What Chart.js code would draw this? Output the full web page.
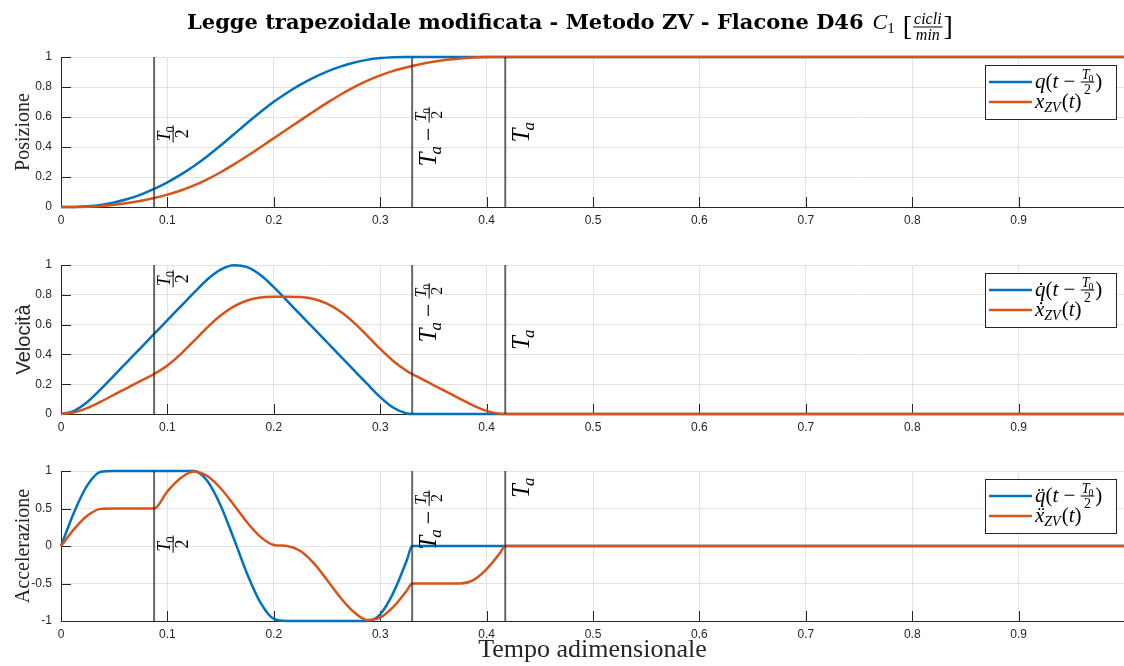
<!DOCTYPE html>
<html>
<head>
<meta charset="utf-8">
<script src="https://cdn.jsdelivr.net/npm/chart.js@4.4.0/dist/chart.umd.min.js"></script>
<style>
  html, body { margin: 0; padding: 0; background: #fff; }
  #fig { position: relative; width: 1124px; height: 666px; }
  #fig canvas { position: absolute; left: 0; }
</style>
</head>
<body>
<div id="fig">
  <canvas id="posChart" width="1124" height="240" style="top:0"></canvas>
  <canvas id="velChart" width="1124" height="210" style="top:240px"></canvas>
  <canvas id="accChart" width="1124" height="216" style="top:450px"></canvas>
</div>
<script>
// tempo adimensionale (campioni)
var tempo = [0, 0.0125, 0.025, 0.0375, 0.05, 0.0625, 0.075, 0.0875, 0.1, 0.1125, 0.125, 0.1375, 0.15, 0.1625,
  0.175, 0.1875, 0.2, 0.2125, 0.225, 0.2375, 0.25, 0.2625, 0.275, 0.2875, 0.3, 0.3125, 0.325, 0.33,
  0.3375, 0.35, 0.3625, 0.375, 0.3875, 0.4, 0.4125, 0.4175, 0.999];

var posQ = [0, 0.0006, 0.0042, 0.0136, 0.0297, 0.0529, 0.0830, 0.1202, 0.1644, 0.2156, 0.2738, 0.3389, 0.4100, 0.4849,
  0.5603, 0.6332, 0.7010, 0.7620, 0.8160, 0.8630, 0.9030, 0.9359, 0.9619, 0.9808, 0.9928, 0.9985, 1.0000, 1,
  1, 1, 1, 1, 1, 1, 1, 1, 1];
var posX = [0, 0.0003, 0.0021, 0.0068, 0.0149, 0.0265, 0.0415, 0.0601, 0.0825, 0.1099, 0.1437, 0.1843, 0.2315, 0.2840,
  0.3403, 0.3988, 0.4583, 0.5179, 0.5775, 0.6365, 0.6940, 0.7481, 0.7976, 0.8409, 0.8774, 0.9073, 0.9315, 0.9399,
  0.9515, 0.9680, 0.9810, 0.9904, 0.9964, 0.9993, 1.0000, 1, 1];

var velQ = [0, 0.0216, 0.0817, 0.1668, 0.2593, 0.3519, 0.4445, 0.5370, 0.6296, 0.7222, 0.8148, 0.9028, 0.9691, 0.9991,
  0.9861, 0.9330, 0.8513, 0.7592, 0.6666, 0.5741, 0.4815, 0.3889, 0.2963, 0.2038, 0.1137, 0.0416, 0.0035, 0,
  0, 0, 0, 0, 0, 0, 0, 0, 0];
var velX = [0, 0.0108, 0.0409, 0.0834, 0.1297, 0.1760, 0.2223, 0.2685, 0.3256, 0.4020, 0.4908, 0.5811, 0.6605, 0.7218,
  0.7616, 0.7813, 0.7868, 0.7870, 0.7847, 0.7716, 0.7403, 0.6875, 0.6147, 0.5276, 0.4365, 0.3541, 0.2888, 0.2685,
  0.2408, 0.1945, 0.1482, 0.1019, 0.0569, 0.0208, 0.0018, 0, 0];

var accQ = [0, 0.458, 0.815, 0.990, 1, 1, 1, 1, 1, 1, 0.999, 0.866, 0.541, 0.095,
  -0.372, -0.755, -0.972, -1, -1, -1, -1, -1, -1, -1, -0.910, -0.618, -0.189, 0,
  0, 0, 0, 0, 0, 0, 0, 0, 0];
var accX = [0, 0.229, 0.407, 0.495, 0.5, 0.5, 0.5, 0.5, 0.729, 0.907, 0.994, 0.933, 0.770, 0.547,
  0.314, 0.122, 0.014, 0.000, -0.067, -0.229, -0.452, -0.686, -0.877, -0.986, -0.955, -0.809, -0.594, -0.5,
  -0.5, -0.5, -0.5, -0.5, -0.455, -0.309, -0.095, 0, 0];

var marcatori = [0.0875, 0.33, 0.4175];   // T0/2, Ta - T0/2, Ta
var tickTempo = [0, 0.1, 0.2, 0.3, 0.4, 0.5, 0.6, 0.7, 0.8, 0.9];
var tickUnit = [0, 0.2, 0.4, 0.6, 0.8, 1];
var tickAcc = [-1, -0.5, 0, 0.5, 1];

var BLUE = '#0072BD';
var ORANGE = '#D95319';
var SERIF = '"Liberation Serif", "DejaVu Serif", serif';
var SANS = '"Liberation Sans", Arial, sans-serif';

// --- piccolo motore per testo "LaTeX" ---
// parte: [testo, dimensione, corsivo, dy, dx]
function setFont(ctx, p) {
  ctx.font = (p[2] ? 'italic ' : '') + p[1] + 'px ' + SERIF;
}
function runWidth(ctx, parts) {
  var w = 0;
  parts.forEach(function (p) { setFont(ctx, p); w += ctx.measureText(p[0]).width + (p[4] || 0); });
  return w;
}
function drawRun(ctx, x, y, parts) {
  parts.forEach(function (p) {
    setFont(ctx, p);
    x += p[4] || 0;
    ctx.fillText(p[0], x, y + (p[3] || 0));
    x += ctx.measureText(p[0]).width;
  });
  return x;
}
function drawFrac(ctx, x, axis, num, den, size) {
  var wn = runWidth(ctx, num), wd = runWidth(ctx, den);
  var w = Math.max(wn, wd) + 2;
  drawRun(ctx, x + (w - wn) / 2, axis - 3, num);
  drawRun(ctx, x + (w - wd) / 2, axis + 2 + size * 0.7, den);
  ctx.fillRect(x, axis - 0.5, w, 1);
  return x + w;
}
function tHalf(ctx, x, axis, f) {
  return drawFrac(ctx, x, axis, [['T', f, 1], ['0', f * 0.7, 0, f * 0.22, -1]], [['2', f, 0]], f);
}

var etichette = [
  function (ctx) { tHalf(ctx, 0, 0, 18); },
  function (ctx) {
    var x = drawRun(ctx, 0, 0, [['T', 25, 1], ['a', 17, 1, 5, -2]]);
    x = drawRun(ctx, x + 5, 0, [['\u2212', 24, 0]]);
    tHalf(ctx, x + 5, -7, 16);
  },
  function (ctx) { drawRun(ctx, 0, 0, [['T', 25, 1], ['a', 17, 1, 5, -2]]); }
];
var scostamento = [19, 24, 24];

var ticksInterni = {
  id: 'ticksInterni',
  beforeDatasetsDraw: function (chart) {
    var ctx = chart.ctx, a = chart.chartArea, sx = chart.scales.x, sy = chart.scales.y;
    ctx.save();
    ctx.strokeStyle = '#262626';
    ctx.lineWidth = 1;
    ctx.beginPath();
    sx.ticks.forEach(function (t) {
      var px = Math.round(sx.getPixelForValue(t.value)) + 0.5;
      ctx.moveTo(px, a.bottom); ctx.lineTo(px, a.bottom - 10);
    });
    sy.ticks.forEach(function (t) {
      var py = Math.round(sy.getPixelForValue(t.value)) + 0.5;
      ctx.moveTo(a.left, py); ctx.lineTo(a.left + 10, py);
    });
    ctx.stroke();
    ctx.restore();
  }
};

var lineeLabel = {
  id: 'lineeLabel',
  afterDatasetsDraw: function (chart, args, opts) {
    var ctx = chart.ctx, sx = chart.scales.x, sy = chart.scales.y;
    marcatori.forEach(function (t, i) {
      ctx.save();
      ctx.translate(sx.getPixelForValue(t) + scostamento[i], sy.getPixelForValue(opts.y[i]));
      ctx.rotate(-Math.PI / 2);
      ctx.fillStyle = '#000';
      ctx.textAlign = 'left';
      ctx.textBaseline = 'alphabetic';
      etichette[i](ctx);
      ctx.restore();
    });
  }
};

var legendaMat = {
  id: 'legendaMat',
  afterDraw: function (chart, args, opts) {
    var ctx = chart.ctx, a = chart.chartArea;
    var w = 131, h = 54, x0 = a.right - w - 8, y0 = a.top + 8;
    ctx.save();
    ctx.fillStyle = '#fff';
    ctx.fillRect(x0, y0, w, h);
    ctx.strokeStyle = '#262626';
    ctx.lineWidth = 1;
    ctx.strokeRect(x0 + 0.5, y0 + 0.5, w, h);
    [BLUE, ORANGE].forEach(function (c, i) {
      var yy = y0 + 17 + i * 20;
      ctx.strokeStyle = c;
      ctx.lineWidth = 2.5;
      ctx.beginPath(); ctx.moveTo(x0 + 4, yy); ctx.lineTo(x0 + 47, yy); ctx.stroke();
    });
    ctx.fillStyle = '#000';
    ctx.textAlign = 'left';
    ctx.textBaseline = 'alphabetic';
    var d = opts.accento;
    var x = drawRun(ctx, x0 + 50, y0 + 23, [['q' + d, 21, 1], ['(', 21, 0], ['t', 21, 1], [' \u2212 ', 21, 0]]);
    x = tHalf(ctx, x, y0 + 17, 14);
    drawRun(ctx, x + 1, y0 + 23, [[')', 21, 0]]);
    drawRun(ctx, x0 + 50, y0 + 43, [['x' + d, 21, 1], ['ZV', 14, 1, 4], ['(', 21, 0, 0, 1], ['t', 21, 1], [')', 21, 0]]);
    ctx.restore();
  }
};

var titolo = {
  id: 'titolo',
  afterDraw: function (chart) {
    var ctx = chart.ctx, testo = 'Legge trapezoidale modificata - Metodo ZV - Flacone D46';
    var fam = '"DejaVu Serif", "Liberation Serif", serif';
    ctx.save();
    ctx.fillStyle = '#000';
    ctx.textAlign = 'left';
    ctx.textBaseline = 'alphabetic';
    ctx.font = 'bold 20px ' + fam;
    var size = 20 * 675 / ctx.measureText(testo).width;
    ctx.font = 'bold ' + size.toFixed(1) + 'px ' + fam;
    var x = 187, y = 29;
    ctx.fillText(testo, x, y);
    x += ctx.measureText(testo).width + 9;
    x = drawRun(ctx, x, y, [['C', 22, 1], ['1', 15, 0, 4]]);
    x = drawRun(ctx, x + 8, y + 6, [['[', 28, 0]]);
    x = drawFrac(ctx, x + 1, y - 2, [['cicli', 16, 1]], [['min', 16, 1]], 16);
    drawRun(ctx, x + 1, y + 6, [[']', 28, 0]]);
    ctx.restore();
  }
};

function serie(valori, colore, ordine) {
  return {
    data: tempo.map(function (t, i) { return { x: t, y: valori[i] }; }),
    borderColor: colore, borderWidth: 2.5, pointRadius: 0, fill: false,
    cubicInterpolationMode: 'monotone', order: ordine, clip: 4
  };
}
function marcatore(t, ymin, ymax) {
  return {
    data: [{ x: t, y: ymin }, { x: t, y: ymax }],
    borderColor: 'rgba(38,38,38,0.7)', borderWidth: 2, pointRadius: 0, order: 0, clip: 2
  };
}

function creaGrafico(id, c) {
  var ds = [serie(c.q, BLUE, 2), serie(c.x, ORANGE, 1)];
  marcatori.forEach(function (t) { ds.push(marcatore(t, c.ticks[0], c.ticks[c.ticks.length - 1])); });
  var plugins = [ticksInterni, lineeLabel, legendaMat];
  if (c.titolo) plugins.push(titolo);
  return new Chart(document.getElementById(id), {
    type: 'line',
    data: { datasets: ds },
    options: {
      responsive: false, animation: false, devicePixelRatio: 1, events: [],
      layout: { padding: { top: c.padTop, left: 0, right: 0, bottom: 0 } },
      plugins: {
        legend: { display: false }, tooltip: { enabled: false },
        lineeLabel: { y: c.etichetteY },
        legendaMat: { accento: c.accento }
      },
      scales: {
        x: {
          type: 'linear', min: 0, max: 0.999,
          afterBuildTicks: function (s) { s.ticks = tickTempo.map(function (v) { return { value: v }; }); },
          afterFit: function (s) { s.height = c.xAlto; },
          ticks: { font: { family: SANS, size: 12 }, color: '#262626', padding: 6, maxRotation: 0, autoSkip: false,
            callback: function (v) { return String(v); } },
          grid: { color: '#e3e3e3', drawTicks: false },
          border: { color: '#262626', width: 1 },
          title: c.xTitolo ? { display: true, text: 'Tempo adimensionale', color: '#262626',
            font: { family: SERIF, size: 26 }, padding: { top: 0, bottom: 0 } } : { display: false }
        },
        y: {
          min: c.ticks[0], max: c.ticks[c.ticks.length - 1],
          afterBuildTicks: function (s) { s.ticks = c.ticks.map(function (v) { return { value: v }; }); },
          afterFit: function (s) { s.width = 61; },
          ticks: { font: { family: SANS, size: 12 }, color: '#262626', padding: 9,
            callback: function (v) { return String(v); } },
          grid: { color: '#e3e3e3', drawTicks: false },
          border: { color: '#262626', width: 1 },
          title: { display: true, text: c.yTitolo, color: '#262626',
            font: { family: c.yFont, size: 20 }, padding: { top: 12, bottom: 0 } }
        }
      }
    },
    plugins: plugins
  });
}

creaGrafico('posChart', {
  q: posQ, x: posX, ticks: tickUnit, padTop: 57, xAlto: 33, titolo: true,
  yTitolo: 'Posizione', yFont: SERIF, accento: '', etichetteY: [0.43, 0.27, 0.43]
});
creaGrafico('velChart', {
  q: velQ, x: velX, ticks: tickUnit, padTop: 25, xAlto: 36,
  yTitolo: 'Velocità', yFont: SANS, accento: '\u0307', etichetteY: [0.85, 0.48, 0.43]
});
creaGrafico('accChart', {
  q: accQ, x: accX, ticks: tickAcc, padTop: 21, xAlto: 45, xTitolo: true,
  yTitolo: 'Accelerazione', yFont: SERIF, accento: '\u0308', etichetteY: [-0.09, -0.05, 0.64]
});
</script>
</body>
</html>
